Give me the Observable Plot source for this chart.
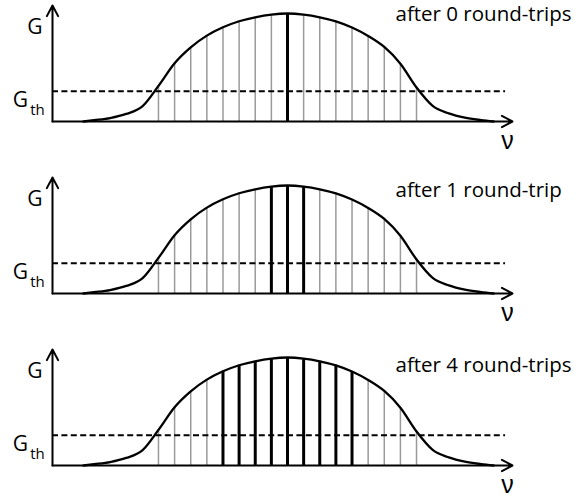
<!DOCTYPE html>
<html>
<head>
<meta charset="utf-8">
<script src="https://cdn.jsdelivr.net/npm/d3@7"></script>
<script src="https://cdn.jsdelivr.net/npm/@observablehq/plot@0.6"></script>
<style>
  html, body { margin: 0; padding: 0; background: #fff; }
  #chart svg { display: block; }
</style>
</head>
<body>
<div id="chart"></div>
<script>
// Gain profile G(ν), frequency in units of the cavity mode spacing.
const profileNu = [-12.65, -12, -11, -10, -9, -8, -7, -6, -5, -4, -3, -2, -1, 0,
                   1, 2, 3, 4, 5, 6, 7, 8, 9, 10, 11, 12, 12.78];
const profileGain = [0, 0.012, 0.032, 0.07, 0.14, 0.33, 0.54, 0.687, 0.795, 0.872, 0.928, 0.965, 0.99, 1,
                     0.99, 0.965, 0.927, 0.87, 0.792, 0.69, 0.535, 0.315, 0.145, 0.075, 0.035, 0.013, 0];

// Threshold gain
const thresholdGain = 0.28;

// Longitudinal cavity modes
const modes = [-8, -7, -6, -5, -4, -3, -2, -1, 0, 1, 2, 3, 4, 5, 6, 7, 8];

// Panels: number of round-trips and how many modes either side of centre are lasing
const rounds = [0, 1, 4];
const litHalfWidth = [0, 1, 4];
const captions = ["after 0 round-trips", "after 1 round-trip", "after 4 round-trips"];

// ---- layout (frequency axis extent, label offsets) ----
const X0 = -14.57, X_END = 13.95, X_DASH = 13.52, Y_TOP = 1.074;
const captionY = [0.995, 0.955, 0.93];

const profile = profileNu.map((nu, i) => ({nu, g: profileGain[i]}));
const gainAt = (nu) => profileGain[profileNu.indexOf(nu)];

const modeRows = rounds.flatMap((r, k) =>
  modes.map(m => ({round: r, nu: m, g: gainAt(m), lit: Math.abs(m) <= litHalfWidth[k]}))
);
const captionRows = rounds.map((r, k) => ({round: r, text: captions[k], y: captionY[k]}));

const font = "'Open Sans', sans-serif";

const chart = Plot.plot({
  width: 576,
  height: 499,
  marginLeft: 52,
  marginRight: 64,
  marginTop: 5,
  marginBottom: 34,
  x: {domain: [X0, X_END], axis: null},
  y: {domain: [0, Y_TOP], axis: null},
  fy: {domain: rounds, axis: null, paddingInner: 56 / 172, paddingOuter: 0, round: false},
  style: {fontFamily: font, background: "white", color: "black"},
  marks: [
    // non-lasing modes
    Plot.ruleX(modeRows.filter(d => !d.lit), {
      x: "nu", y1: 0, y2: "g", fy: "round", stroke: "#9a9a9a", strokeWidth: 1.5
    }),
    // lasing modes
    Plot.ruleX(modeRows.filter(d => d.lit), {
      x: "nu", y1: 0, y2: "g", fy: "round", stroke: "black", strokeWidth: 3
    }),
    // gain curve
    Plot.line(profile, {x: "nu", y: "g", curve: "monotone-x", stroke: "black", strokeWidth: 2.3}),
    // threshold
    Plot.ruleY([thresholdGain], {x1: X0, x2: X_DASH, stroke: "black", strokeWidth: 2, strokeDasharray: "6,3.4"}),
    // axes with arrowheads
    Plot.arrow([0], {x1: X0, y1: 0, x2: X_END, y2: 0, stroke: "black", strokeWidth: 2, headLength: 9, headAngle: 56}),
    Plot.arrow([0], {x1: X0, y1: 0, x2: X0, y2: Y_TOP, stroke: "black", strokeWidth: 2, headLength: 9, headAngle: 56}),
    // axis labels
    Plot.text(["G"], {x: X0, y: 0.875, dx: -17.5, text: d => d, fontSize: 21, fill: "black", textAnchor: "middle"}),
    Plot.text(["G"], {x: X0, y: 0.195, dx: -32, text: d => d, fontSize: 21, fill: "black", textAnchor: "middle"}),
    Plot.text(["th"], {x: X0, y: 0.105, dx: -15, text: d => d, fontSize: 15, fill: "black", textAnchor: "middle"}),
    Plot.text(["ν"], {x: X_END, y: 0, dx: -5, dy: 19.5, text: d => d, fontSize: 25,
      fontFamily: "'Liberation Sans', sans-serif", fill: "black", textAnchor: "middle"}),
    // panel captions
    Plot.text(captionRows, {
      x: X_END, y: "y", fy: "round", dx: -117, text: "text", fontSize: 20.5, fill: "black", textAnchor: "start"
    })
  ]
});

document.getElementById("chart").append(chart);
</script>
</body>
</html>
